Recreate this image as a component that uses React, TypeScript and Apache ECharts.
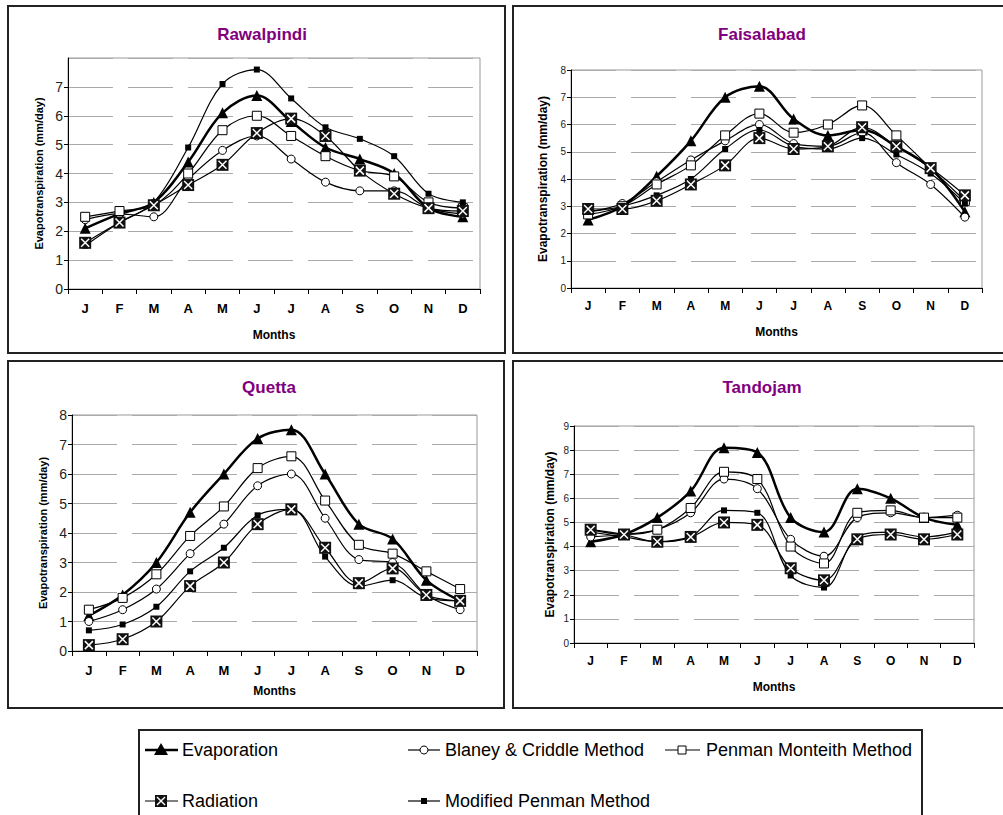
import React, { useEffect, useRef } from "react";
import * as echarts from "echarts";

const months = ["J", "F", "M", "A", "M", "J", "J", "A", "S", "O", "N", "D"];
const stations = ["Rawalpindi", "Faisalabad", "Quetta", "Tandojam"];
const seriesNames = ["Evaporation", "Blaney & Criddle Method", "Penman Monteith Method", "Radiation", "Modified Penman Method"];

// Rawalpindi
const rwpEvap = [2.1, 2.6, 3.0, 4.4, 6.1, 6.7, 5.8, 4.9, 4.5, 4.0, 2.8, 2.5];
const rwpBlaney = [2.4, 2.6, 2.5, 3.8, 4.8, 5.3, 4.5, 3.7, 3.4, 3.4, 2.8, 2.6];
const rwpPenman = [2.5, 2.7, 2.9, 4.0, 5.5, 6.0, 5.3, 4.6, 4.1, 3.9, 3.0, 2.8];
const rwpRad = [1.6, 2.3, 2.9, 3.6, 4.3, 5.4, 5.9, 5.3, 4.1, 3.3, 2.8, 2.7];
const rwpModPen = [1.5, 2.3, 3.0, 4.9, 7.1, 7.6, 6.6, 5.6, 5.2, 4.6, 3.3, 3.0];

// Faisalabad
const fsdEvap = [2.5, 3.0, 4.1, 5.4, 7.0, 7.4, 6.2, 5.6, 5.8, 5.2, 4.4, 2.8];
const fsdBlaney = [2.8, 3.1, 3.9, 4.7, 5.4, 6.0, 5.3, 5.2, 5.7, 4.6, 3.8, 2.6];
const fsdPenman = [2.7, 3.0, 3.8, 4.5, 5.6, 6.4, 5.7, 6.0, 6.7, 5.6, 4.4, 3.2];
const fsdRad = [2.9, 2.9, 3.2, 3.8, 4.5, 5.5, 5.1, 5.2, 5.9, 5.2, 4.4, 3.4];
const fsdModPen = [2.8, 3.0, 3.4, 4.0, 5.1, 5.8, 5.2, 5.1, 5.5, 4.9, 4.2, 3.1];

// Quetta
const qtaEvap = [1.2, 1.9, 3.0, 4.7, 6.0, 7.2, 7.5, 6.0, 4.3, 3.8, 2.4, 1.7];
const qtaBlaney = [1.0, 1.4, 2.1, 3.3, 4.3, 5.6, 6.0, 4.5, 3.1, 3.0, 1.9, 1.4];
const qtaPenman = [1.4, 1.8, 2.6, 3.9, 4.9, 6.2, 6.6, 5.1, 3.6, 3.3, 2.7, 2.1];
const qtaRad = [0.2, 0.4, 1.0, 2.2, 3.0, 4.3, 4.8, 3.5, 2.3, 2.8, 1.9, 1.7];
const qtaModPen = [0.7, 0.9, 1.5, 2.7, 3.5, 4.6, 4.8, 3.2, 2.2, 2.4, 1.8, 1.7];

// Tandojam
const tdjEvap = [4.2, 4.5, 5.2, 6.3, 8.1, 7.9, 5.2, 4.6, 6.4, 6.0, 5.2, 4.9];
const tdjBlaney = [4.4, 4.5, 4.7, 5.4, 6.8, 6.4, 4.3, 3.6, 5.2, 5.4, 5.2, 5.3];
const tdjPenman = [4.7, 4.5, 4.7, 5.6, 7.1, 6.8, 4.0, 3.3, 5.4, 5.5, 5.2, 5.2];
const tdjRad = [4.7, 4.5, 4.2, 4.4, 5.0, 4.9, 3.1, 2.6, 4.3, 4.5, 4.3, 4.5];
const tdjModPen = [4.6, 4.4, 4.2, 4.4, 5.5, 5.4, 2.8, 2.3, 4.4, 4.6, 4.4, 4.6];

const stationData = [
  [rwpEvap, rwpBlaney, rwpPenman, rwpRad, rwpModPen],
  [fsdEvap, fsdBlaney, fsdPenman, fsdRad, fsdModPen],
  [qtaEvap, qtaBlaney, qtaPenman, qtaRad, qtaModPen],
  [tdjEvap, tdjBlaney, tdjPenman, tdjRad, tdjModPen],
];
const yMax = [8, 8, 8, 9];

const FONT = "Arial, 'Liberation Sans', sans-serif";

const grids = [
  { left: 68, top: 58, width: 412, height: 231 },
  { left: 571, top: 70, width: 411, height: 218 },
  { left: 72, top: 415, width: 405, height: 236 },
  { left: 574, top: 426, width: 400, height: 217 },
];
const tickFont = [14, 10, 14, 10];
const xTickFont = [13, 12, 13, 12];
const yNameFont = [11, 12, 11, 12];
const yNameGap = [24, 22, 24, 18];
const xLabelMargin = [13, 12, 13, 12];
const xNameGap = [40, 38, 34, 38];
const titlePos = [
  [257, 21],
  [757, 21],
  [264, 374],
  [757, 374],
];

const xPath = "path://M0,0L10,10M10,0L0,10";

export default function App() {
  const ref = useRef<HTMLDivElement>(null);
  useEffect(() => {
    if (!ref.current) return;
    const chart = echarts.init(ref.current, null, { renderer: "svg" });

    const xAxes: any[] = [];
    const yAxes: any[] = [];
    const series: any[] = [];
    const titles: any[] = [];

    stations.forEach((st, gi) => {
      titles.push({
        text: st,
        left: titlePos[gi][0],
        top: titlePos[gi][1],
        textAlign: "center",
        textStyle: { color: "#800080", fontWeight: "bold", fontSize: 17, fontFamily: FONT },
      });
      xAxes.push({
        type: "category",
        gridIndex: gi,
        data: months,
        boundaryGap: true,
        axisLine: { lineStyle: { color: "#000", width: 1 } },
        axisTick: { show: true, length: 5, lineStyle: { color: "#000" } },
        axisLabel: {
          color: "#000",
          fontWeight: "bold",
          fontSize: xTickFont[gi],
          fontFamily: FONT,
          interval: 0,
          margin: xLabelMargin[gi],
        },
        name: "Months",
        nameLocation: "middle",
        nameGap: xNameGap[gi],
        nameTextStyle: { color: "#000", fontWeight: "bold", fontSize: 12, fontFamily: FONT },
        splitLine: { show: false },
      });
      yAxes.push({
        type: "value",
        gridIndex: gi,
        min: 0,
        max: yMax[gi],
        interval: 1,
        axisLine: { show: true, lineStyle: { color: "#000", width: 1 } },
        axisTick: { show: true, length: 4, lineStyle: { color: "#000" } },
        axisLabel: {
          color: "#222",
          fontSize: tickFont[gi],
          fontFamily: FONT,
          margin: 5,
          showMaxLabel: gi !== 0,
        },
        splitLine: { show: true, lineStyle: { color: "#aaa", width: 1, type: [45, 15] } },
        name: "Evapotranspiration (mm/day)",
        nameLocation: "middle",
        nameRotate: 90,
        nameGap: yNameGap[gi],
        nameTextStyle: { color: "#000", fontWeight: "bold", fontSize: yNameFont[gi], fontFamily: FONT },
      });

      const d = stationData[gi];
      const base = { type: "line", xAxisIndex: gi, yAxisIndex: gi, smooth: 0.35, showSymbol: true };
      series.push({
        ...base,
        name: seriesNames[0],
        data: d[0],
        symbol: "triangle",
        symbolSize: 11,
        itemStyle: { color: "#000" },
        lineStyle: { color: "#000", width: 2.5 },
        z: 3,
      });
      series.push({
        ...base,
        name: seriesNames[1],
        data: d[1],
        symbol: "circle",
        symbolSize: 8,
        itemStyle: { color: "#fff", borderColor: "#000", borderWidth: 1 },
        lineStyle: { color: "#000", width: 1.2 },
        z: 4,
      });
      series.push({
        ...base,
        name: seriesNames[2],
        data: d[2],
        symbol: "rect",
        symbolSize: 9,
        itemStyle: { color: "#fff", borderColor: "#000", borderWidth: 1 },
        lineStyle: { color: "#000", width: 1.2 },
        z: 4,
      });
      series.push({
        ...base,
        name: seriesNames[3],
        data: d[3],
        symbol: "rect",
        symbolSize: 12,
        itemStyle: { color: "#111" },
        lineStyle: { color: "#000", width: 1.2 },
        z: 5,
      });
      series.push({
        ...base,
        name: seriesNames[3] + " X",
        data: d[3],
        symbol: xPath,
        symbolSize: 8,
        itemStyle: { color: "#fff", borderColor: "#fff", borderWidth: 1.5 },
        lineStyle: { width: 0, opacity: 0 },
        z: 6,
      });
      series.push({
        ...base,
        name: seriesNames[4],
        data: d[4],
        symbol: "rect",
        symbolSize: 6,
        itemStyle: { color: "#000" },
        lineStyle: { color: "#000", width: 1.2 },
        z: 4,
      });
    });

    const boxStyle = { fill: "none", stroke: "#222", lineWidth: 2 };
    const legendText = (x: number, y: number, t: string) => ({
      type: "text",
      x,
      y,
      style: { text: t, fill: "#000", font: `18px ${FONT}`, textVerticalAlign: "middle", verticalAlign: "middle" },
    });
    const lline = (x1: number, x2: number, y: number, w: number) => ({
      type: "line",
      shape: { x1, y1: y, x2, y2: y },
      style: { stroke: "#000", lineWidth: w },
    });

    const graphic: any[] = [
      { type: "rect", shape: { x: 8, y: 6, width: 497, height: 347 }, style: boxStyle, silent: true },
      { type: "rect", shape: { x: 513, y: 6, width: 520, height: 347 }, style: boxStyle, silent: true },
      { type: "rect", shape: { x: 8, y: 361, width: 496, height: 347 }, style: boxStyle, silent: true },
      { type: "rect", shape: { x: 513, y: 361, width: 520, height: 347 }, style: boxStyle, silent: true },
      { type: "rect", shape: { x: 139, y: 730, width: 783, height: 100 }, style: boxStyle, silent: true },
      lline(145, 178, 750, 2.5),
      { type: "polygon", shape: { points: [[154, 755], [168, 755], [161, 743]] }, style: { fill: "#000" } },
      legendText(182, 750, seriesNames[0]),
      lline(408, 440, 750, 1.2),
      { type: "circle", shape: { cx: 424, cy: 750, r: 4 }, style: { fill: "#fff", stroke: "#000", lineWidth: 1 } },
      legendText(445, 750, seriesNames[1]),
      lline(665, 700, 750, 1.2),
      { type: "rect", shape: { x: 678, y: 746, width: 8, height: 8 }, style: { fill: "#fff", stroke: "#000", lineWidth: 1 } },
      legendText(706, 750, seriesNames[2]),
      lline(145, 178, 801, 1.2),
      { type: "rect", shape: { x: 155, y: 795, width: 12, height: 12 }, style: { fill: "#111" } },
      { type: "line", shape: { x1: 157, y1: 797, x2: 165, y2: 805 }, style: { stroke: "#fff", lineWidth: 1.5 } },
      { type: "line", shape: { x1: 165, y1: 797, x2: 157, y2: 805 }, style: { stroke: "#fff", lineWidth: 1.5 } },
      legendText(182, 801, seriesNames[3]),
      lline(408, 440, 801, 1.2),
      { type: "rect", shape: { x: 421, y: 798, width: 6, height: 6 }, style: { fill: "#000" } },
      legendText(445, 801, seriesNames[4]),
    ];

    chart.setOption({
      animation: false,
      backgroundColor: "#fff",
      title: titles,
      grid: grids.map((g) => ({ ...g, show: true, borderColor: "#999", borderWidth: 1, backgroundColor: "transparent" })),
      xAxis: xAxes,
      yAxis: yAxes,
      series,
      graphic,
    });
    return () => chart.dispose();
  }, []);

  return (
    <div
      ref={ref}
      style={{ position: "absolute", left: 0, top: 0, width: 1003, height: 815, background: "#fff" }}
    />
  );
}
